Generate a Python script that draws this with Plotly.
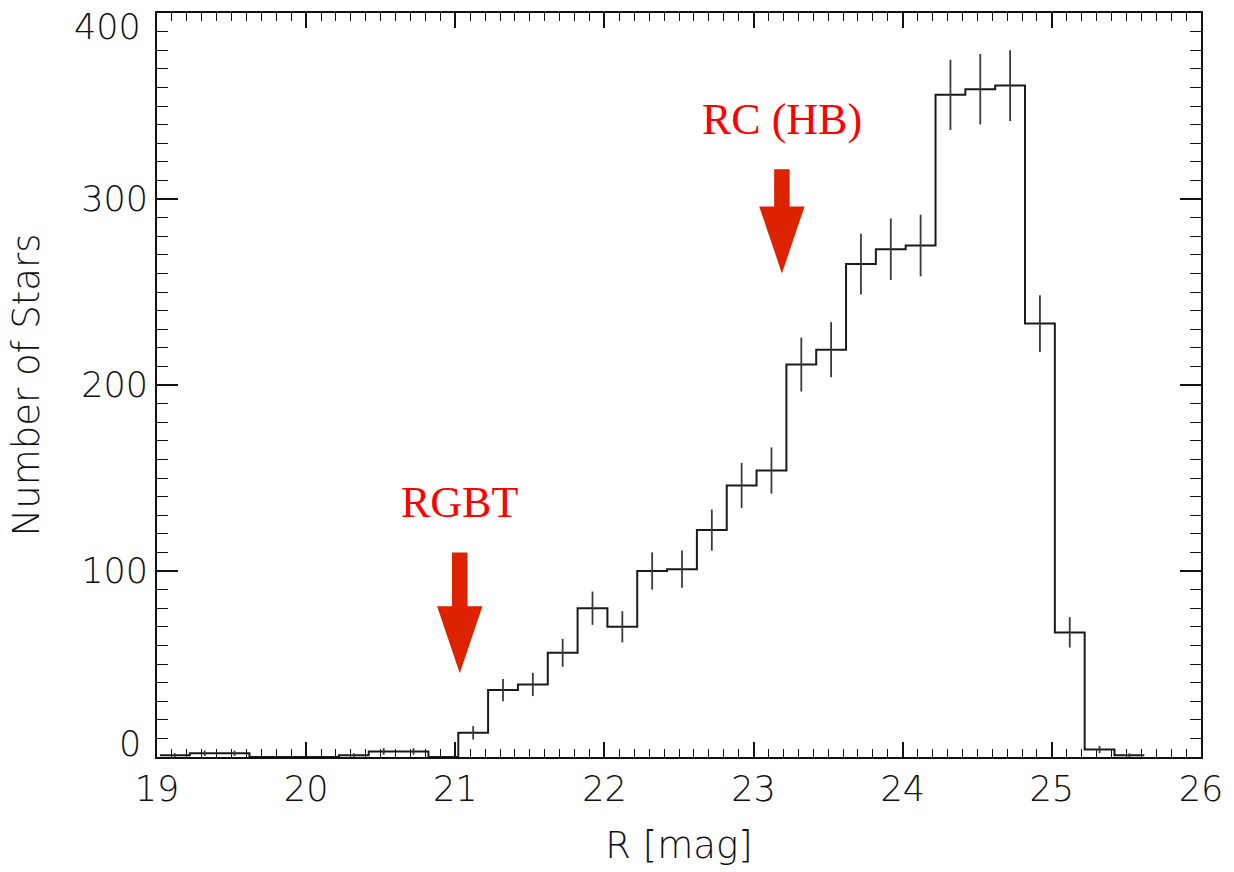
import numpy as np
import plotly.graph_objects as go

# R-band luminosity function, 0.2 mag bins
bin_left = [19.02, 19.22, 19.42, 19.62, 19.82, 20.02, 20.22, 20.42, 20.62, 20.82,
            21.02, 21.22, 21.42, 21.62, 21.82, 22.02, 22.22, 22.42, 22.62, 22.82,
            23.02, 23.22, 23.42, 23.62, 23.82, 24.02, 24.22, 24.42, 24.62, 24.82,
            25.02, 25.22, 25.42]
bin_width = 0.2
counts = [1, 2, 2, 0, 0, 0, 1, 3, 3, 0,
          13, 36, 39, 56, 80, 70, 100, 101, 122, 146,
          154, 211, 219, 265, 273, 275, 356, 359, 361, 233,
          67, 4, 1]

x_ticks = [19, 20, 21, 22, 23, 24, 25, 26]
y_ticks = [0, 100, 200, 300, 400]

# feature markers: (label, magnitude, arrow tip, head base, shaft top, label height)
features = [
    ("RGBT", 21.03, 45, 81, 110, 137),
    ("RC (HB)", 23.19, 260, 296, 316, 343),
]

left = np.array(bin_left)
vals = np.array(counts, dtype=float)
centers = left + bin_width / 2

# step outline: each bin drawn from its left edge to its right edge
step_x = list(left) + [left[-1] + bin_width]
step_y = list(vals) + [vals[-1]]

fig = go.Figure()
fig.add_trace(go.Scatter(
    x=step_x, y=step_y, mode="lines", line_shape="hv",
    line=dict(color="#1a1a1a", width=2), showlegend=False, hoverinfo="skip",
))
# Poisson error bars at bin centres
nz = vals > 0
fig.add_trace(go.Scatter(
    x=centers[nz], y=vals[nz], mode="markers",
    marker=dict(size=0.1, color="rgba(0,0,0,0)"),
    error_y=dict(type="data", array=np.sqrt(vals[nz]), width=0,
                 color="#3a3a3a", thickness=1.8),
    showlegend=False,
))

arrow_color = "#dd2200"
shaft_hw = 0.052
head_hw = 0.152
for label, xm, tip, base, top, ylab in features:
    path = (f"M {xm - shaft_hw},{top} L {xm + shaft_hw},{top} L {xm + shaft_hw},{base} "
            f"L {xm + head_hw},{base} L {xm},{tip} L {xm - head_hw},{base} "
            f"L {xm - shaft_hw},{base} Z")
    fig.add_shape(type="path", path=path, xref="x", yref="y",
                  fillcolor=arrow_color, line=dict(width=0))
    fig.add_annotation(x=xm, y=ylab, xref="x", yref="y", text=label, showarrow=False,
                       font=dict(family="Liberation Serif, Times New Roman, serif",
                                 size=44, color="#ff0000"))

tick_font = dict(family="DejaVu Sans ExtraLight, DejaVu Sans, sans-serif",
                 size=35, color="#111111", weight=200)
title_font = dict(family="DejaVu Sans ExtraLight, DejaVu Sans, sans-serif",
                  size=37, color="#111111", weight=200)

fig.update_xaxes(
    range=[19, 26], tickvals=x_ticks, ticktext=[str(v) for v in x_ticks],
    ticks="inside", ticklen=15, tickwidth=1.5, tickcolor="#111",
    minor=dict(dtick=0.1, ticks="inside", ticklen=8, tickwidth=1.3, tickcolor="#111"),
    showline=True, linecolor="#111", linewidth=2, mirror="allticks",
    showgrid=False, zeroline=False, tickfont=tick_font,
    title=dict(text="R [mag]", font=title_font, standoff=24),
)
fig.update_yaxes(
    range=[0, 400], tickvals=y_ticks,
    ticktext=["" if v in (0, 400) else str(v) for v in y_ticks],
    ticks="inside", ticklen=21, tickwidth=1.5, tickcolor="#111",
    minor=dict(dtick=10, ticks="inside", ticklen=11, tickwidth=1.3, tickcolor="#111"),
    showline=True, linecolor="#111", linewidth=2, mirror="allticks",
    showgrid=False, zeroline=False, tickfont=tick_font,
    title=dict(text="Number of Stars", font=title_font, standoff=30),
)
# end labels of the count axis sit inside the frame height
for v, shift in ((0, 13), (400, -14)):
    fig.add_annotation(x=0, xref="paper", xanchor="right", xshift=-14,
                       y=v, yref="y", yshift=shift, text=str(v),
                       showarrow=False, font=tick_font)

fig.update_layout(
    width=1234, height=872,
    margin=dict(l=157, r=27, t=11, b=115),
    plot_bgcolor="white", paper_bgcolor="white",
)

fig.write_html("out.html")
